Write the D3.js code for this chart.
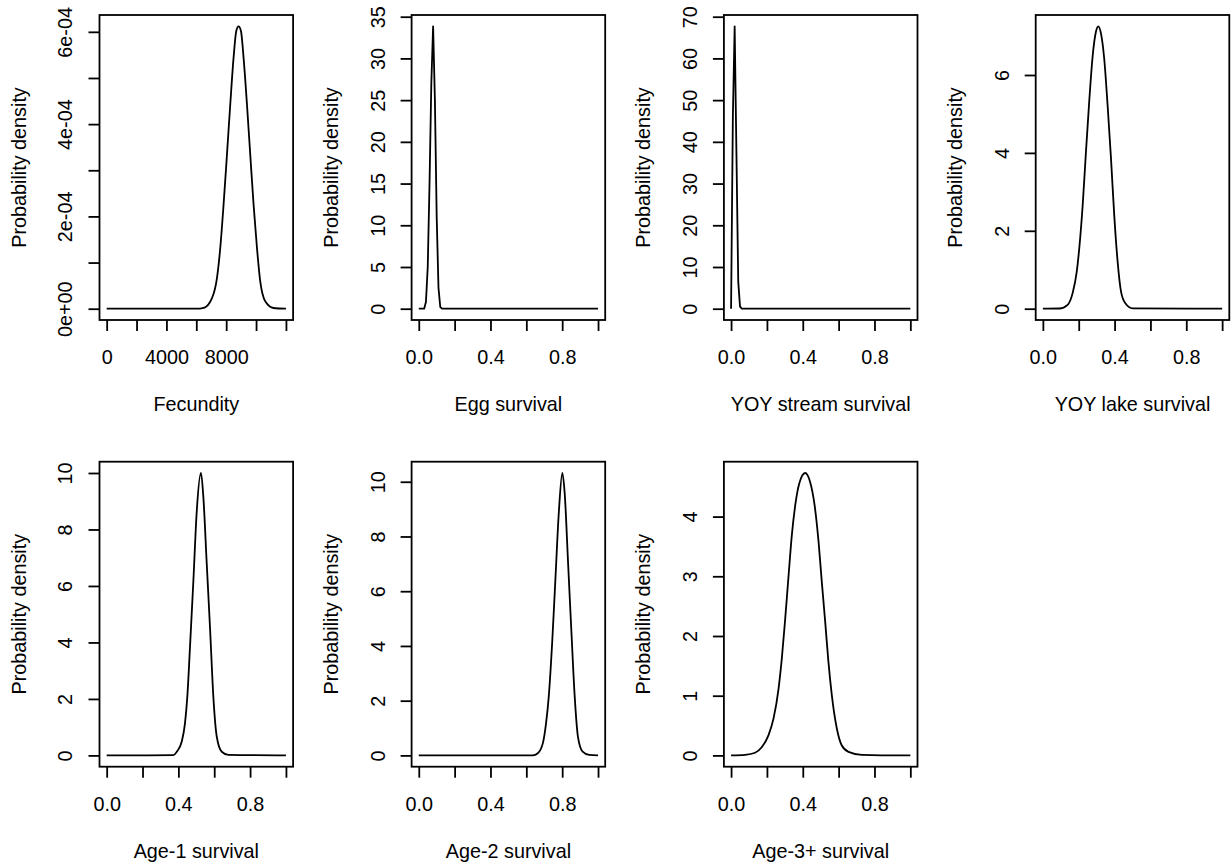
<!DOCTYPE html>
<html>
<head>
<meta charset="utf-8">
<title>Prior densities</title>
<script src="https://d3js.org/d3.v7.min.js"></script>
<style>
    body { margin: 0; background: #fff; }
    text { font-family: "Liberation Sans", Arial, sans-serif; font-size: 19.8px; fill: #000; }
    .tick line { stroke: #000; stroke-width: 1.8; }
</style>
</head>
<body>
<script>
    // values
    var fec_x = [0, 6000, 6500, 7050, 7385, 7605, 7827, 8053, 8274, 8495, 8676, 8829, 8990, 9164, 9391, 9612, 9833, 10060, 10281, 10615, 11170, 12000];
    var fec_y = [0, 0, 0.000002, 0.000023, 0.000067, 0.000132, 0.000226, 0.000334, 0.000443, 0.000544, 0.000602, 0.000612, 0.000602, 0.000544, 0.000443, 0.000334, 0.000226, 0.000132, 0.000059, 0.000016, 0.0000015, 0];

    var egg_x = [0, 0.03, 0.04, 0.05, 0.06, 0.07, 0.08, 0.09, 0.10, 0.11, 0.12, 0.13, 1];
    var egg_y = [0, 0, 0.8, 5, 15, 27, 33.85, 25, 11, 2.5, 0.2, 0, 0];

    var stream_x = [0, 0.01, 0.02, 0.03, 0.04, 0.05, 0.06, 1];
    var stream_y = [0, 46, 67.7, 37, 6.5, 0.5, 0, 0];

    var lake_x = [0, 0.092, 0.138, 0.166, 0.189, 0.205, 0.222, 0.24, 0.259, 0.278, 0.296, 0.309, 0.324, 0.342, 0.361, 0.38, 0.398, 0.417, 0.436, 0.46, 0.5, 1];
    var lake_y = [0, 0.005, 0.1, 0.4, 0.95, 1.65, 2.65, 4.0, 5.35, 6.5, 7.11, 7.25, 7.07, 6.43, 5.23, 3.86, 2.41, 1.21, 0.44, 0.14, 0.01, 0];

    var age1_x = [0, 0.372, 0.391, 0.419, 0.437, 0.45, 0.465, 0.484, 0.502, 0.526, 0.539, 0.558, 0.577, 0.595, 0.614, 0.642, 0.679, 1];
    var age1_y = [0, 0.01, 0.13, 0.49, 1.14, 2.09, 3.86, 6.22, 8.59, 10.0, 9.18, 6.82, 4.46, 2.09, 0.67, 0.13, 0.02, 0];

    var age2_x = [0, 0.636, 0.664, 0.692, 0.71, 0.725, 0.744, 0.762, 0.781, 0.801, 0.814, 0.833, 0.851, 0.87, 0.888, 0.914, 0.951, 1];
    var age2_y = [0, 0, 0.08, 0.44, 1.17, 2.14, 4.10, 6.41, 8.85, 10.32, 9.58, 7.02, 4.58, 2.14, 0.68, 0.14, 0.02, 0];

    var age3_x = [0, 0.079, 0.134, 0.172, 0.209, 0.237, 0.265, 0.283, 0.302, 0.321, 0.339, 0.358, 0.38, 0.413, 0.441, 0.466, 0.488, 0.506, 0.525, 0.543, 0.562, 0.59, 0.617, 0.655, 0.729, 0.952, 1];
    var age3_y = [0, 0.01, 0.045, 0.14, 0.34, 0.62, 1.12, 1.62, 2.29, 3.02, 3.69, 4.19, 4.55, 4.73, 4.58, 4.19, 3.58, 2.91, 2.24, 1.57, 1.01, 0.45, 0.17, 0.06, 0.01, 0, 0];

    var x_titles = ["Fecundity", "Egg survival", "YOY stream survival", "YOY lake survival",
                    "Age-1 survival", "Age-2 survival", "Age-3+ survival"];

    var fec_xticks = [0, 2000, 4000, 6000, 8000, 10000, 12000];
    var fec_xlabels = ["0", "", "4000", "", "8000", "", ""];
    var surv_xticks = [0, 0.2, 0.4, 0.6, 0.8, 1.0];
    var surv_xlabels = ["0.0", "", "0.4", "", "0.8", ""];

    var fec_yticks = [0, 0.0001, 0.0002, 0.0003, 0.0004, 0.0005, 0.0006];
    var fec_ylabels = ["0e+00", "", "2e-04", "", "4e-04", "", "6e-04"];
    var egg_yticks = [0, 5, 10, 15, 20, 25, 30, 35];
    var stream_yticks = [0, 10, 20, 30, 40, 50, 60, 70];
    var lake_yticks = [0, 2, 4, 6];
    var age_yticks = [0, 2, 4, 6, 8, 10];
    var age3_yticks = [0, 1, 2, 3, 4];

    var panels = [
        {x: fec_x, y: fec_y, xt: fec_xticks, xl: fec_xlabels, yt: fec_yticks, yl: fec_ylabels, smooth: true},
        {x: egg_x, y: egg_y, xt: surv_xticks, xl: surv_xlabels, yt: egg_yticks, smooth: false},
        {x: stream_x, y: stream_y, xt: surv_xticks, xl: surv_xlabels, yt: stream_yticks, smooth: false},
        {x: lake_x, y: lake_y, xt: surv_xticks, xl: surv_xlabels, yt: lake_yticks, smooth: true},
        {x: age1_x, y: age1_y, xt: surv_xticks, xl: surv_xlabels, yt: age_yticks, smooth: true},
        {x: age2_x, y: age2_y, xt: surv_xticks, xl: surv_xlabels, yt: age_yticks, smooth: true},
        {x: age3_x, y: age3_y, xt: surv_xticks, xl: surv_xlabels, yt: age3_yticks, smooth: true}
    ];

    var width = 1231, height = 862;
    var box_w = 193.6, box_h = 305;
    var col_left = [99.5, 411.6, 723.9, 1035.7];
    var row_top = [15, 461.7];

    var svg = d3.select('body').append('svg')
        .attr('width', width)
        .attr('height', height);

    function padded(lo, hi) {
        var r = hi - lo;
        return [lo - 0.04 * r, hi + 0.04 * r];
    }

    function draw_panel(p, i) {
        var left = col_left[i % 4];
        var top = row_top[Math.floor(i / 4)];
        var g = svg.append('g');

        var x = d3.scaleLinear()
            .domain(padded(d3.min(p.x), d3.max(p.x)))
            .range([left, left + box_w]);
        var y = d3.scaleLinear()
            .domain(padded(0, d3.max(p.y)))
            .range([top + box_h, top]);

        var pts = p.x.map(function (v, k) { return [v, p.y[k]]; });
        var line = d3.line()
            .x(function (d) { return x(d[0]); })
            .y(function (d) { return y(d[1]); })
            .curve(p.smooth ? d3.curveMonotoneX : d3.curveLinear);

        g.append('path')
            .datum(pts)
            .attr('d', line)
            .attr('fill', 'none')
            .attr('stroke', '#000')
            .attr('stroke-width', 1.8)
            .attr('stroke-linejoin', 'round');

        // x axis
        var xa = g.append('g')
            .attr('transform', 'translate(0,' + (top + box_h) + ')')
            .call(d3.axisBottom(x).tickValues(p.xt).tickSize(11)
                .tickFormat(function (d, k) { return p.xl[k]; }));
        xa.select('.domain').remove();
        xa.selectAll('text').attr('y', 37).attr('dy', '0.35em');

        // y axis, labels parallel to the axis
        var ya = g.append('g')
            .attr('transform', 'translate(' + left + ',0)')
            .call(d3.axisLeft(y).tickValues(p.yt).tickSize(11)
                .tickFormat(function (d, k) { return p.yl ? p.yl[k] : String(d); }));
        ya.select('.domain').remove();
        ya.selectAll('text')
            .attr('x', 0)
            .attr('dy', '0.35em')
            .attr('text-anchor', 'middle')
            .attr('transform', 'translate(-34,0) rotate(-90)');

        g.append('rect')
            .attr('x', left)
            .attr('y', top)
            .attr('width', box_w)
            .attr('height', box_h)
            .attr('fill', 'none')
            .attr('stroke', '#000')
            .attr('stroke-width', 1.8);

        g.append('text')
            .attr('x', left + box_w / 2)
            .attr('y', top + box_h + 84)
            .attr('dy', '0.35em')
            .attr('text-anchor', 'middle')
            .text(x_titles[i]);

        g.append('text')
            .attr('transform', 'translate(' + (left - 80.5) + ',' + (top + box_h / 2) + ') rotate(-90)')
            .attr('dy', '0.35em')
            .attr('text-anchor', 'middle')
            .text('Probability density');
    }

    panels.forEach(draw_panel);
</script>
</body>
</html>
